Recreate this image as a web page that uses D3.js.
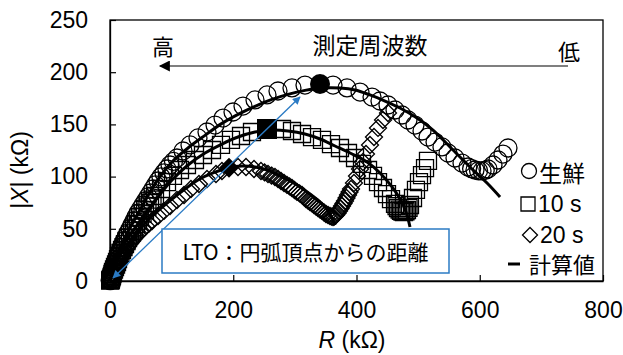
<!DOCTYPE html>
<html>
<head>
<meta charset="utf-8">
<script src="https://cdn.jsdelivr.net/npm/d3@7"></script>
<style>
  html, body { margin: 0; padding: 0; background: #fff; }
  svg { display: block; }
  .latin { font-family: "Liberation Sans", Arial, sans-serif; }
  .cjk { font-family: "Noto Sans CJK JP", "Noto Sans", sans-serif; }
</style>
</head>
<body>
<svg id="chart" width="623" height="355"></svg>
<script>
// Axis ticks
const xTicks = [0, 200, 400, 600, 800];
const yTicks = [0, 50, 100, 150, 200, 250];

// 生鮮 (fresh) — measured R and |X| (kΩ)
const freshR = [0.3,0.8,1.2,1.6,2.3,3.2,4.0,4.9,5.6,6.5,8.0,9.7,11.2,13.0,14.5,16.2,18.5,21.1,23.4,26.0,29.0,32.5,35.6,38.9,42.0,45.4,49.5,53.5,57.6,61.7,65.8,69.8,73.8,77.9,82.7,87.6,92.4,97.4,103.0,108.7,118.5,129.8,142.8,157.4,170.4,183.4,199.6,215.8,235.3,254.8,272.6,295.3,316.4,361.9,384.6,405.7,425.2,438.1,451.1,462.5,473.8,483.6,494.9,506.3,516.0,527.4,538.7,548.5,559.8,571.2,580.9,586.8,592.3,598.1,603.7,608.9,613.4,621.5,629.6,637.7,645.8];
const freshX = [0.4,0.9,1.4,1.9,3.2,4.8,6.6,8.6,10.5,12.5,14.9,17.2,20.0,23.0,25.8,28.7,32.1,35.4,38.8,42.1,45.9,49.8,53.6,57.5,61.3,65.1,69.0,72.8,76.6,80.5,84.3,88.1,92.0,95.8,99.7,103.5,107.3,111.1,114.5,117.8,124.5,130.3,137.0,142.7,149.4,156.1,161.9,167.6,173.4,178.2,182.0,184.9,187.7,187.7,184.9,181.0,176.2,172.4,168.6,163.8,159.0,154.2,149.4,143.7,137.9,133.1,128.4,122.6,117.8,113.0,109.2,107.6,106.3,105.6,105.4,106.0,107.3,111.1,115.9,121.6,127.4];

// 10 s
const s10R = [0.3,0.8,1.2,1.6,2.4,3.2,4.0,4.9,6.5,8.1,9.8,11.4,13.0,14.6,17.0,19.5,21.9,24.3,26.8,29.2,32.4,35.7,38.9,42.2,45.5,48.7,52.8,56.8,60.8,64.9,69.0,73.0,82.8,92.5,102.2,113.6,124.9,137.9,150.9,165.5,180.1,196.3,212.6,230.4,279.1,295.3,311.6,327.8,344.0,358.6,373.2,386.2,397.6,408.9,418.7,426.8,434.9,443.0,449.5,456.0,462.5,465.0,467.3,470.0,472.2,474.6,477.1,479.5,481.9,484.4,486.8,491.7,496.5,501.4,506.3,511.2,516.0];
const s10X = [0.4,0.9,1.4,1.9,3.4,4.8,6.7,8.6,11.0,13.4,15.8,18.2,21.0,23.9,26.8,29.7,32.5,35.4,38.3,41.2,44.5,47.9,51.2,54.6,57.9,61.3,64.6,68.0,71.3,74.7,78.0,81.4,88.1,94.8,100.6,106.3,111.1,115.9,120.7,125.5,130.3,135.1,138.9,142.7,145.6,143.7,140.8,137.9,135.1,131.2,127.4,122.6,117.8,112.1,106.3,100.6,94.8,89.1,83.3,78.5,73.8,71.7,69.9,68.3,67.1,66.4,66.1,66.8,68.0,70.1,72.8,79.5,87.2,94.8,101.5,108.2,115.0];

// 20 s
const s20R = [0.3,0.8,1.2,1.6,2.4,3.2,4.0,4.9,6.5,8.1,9.8,11.4,13.0,14.6,17.0,19.5,21.9,24.3,26.8,29.2,32.4,35.7,38.9,42.2,46.2,50.3,54.3,58.4,63.3,68.2,77.9,87.6,97.4,108.7,120.1,131.4,144.4,157.4,172.0,181.7,207.7,220.7,233.7,245.0,250.8,256.4,262.1,267.7,272.7,277.5,282.4,287.2,291.3,295.3,299.4,303.4,307.6,311.6,314.9,318.0,321.3,324.5,327.8,331.0,334.3,337.5,340.8,344.0,347.3,350.5,353.8,357.0,359.5,361.9,364.3,366.7,369.2,371.6,374.1,376.5,378.9,381.3,383.8,386.2,388.7,391.1,395.9,400.8,405.7,410.5,415.4,421.9,428.4,434.9,443.0,451.1];
const s20X = [0.4,0.9,1.4,1.9,3.4,4.8,6.3,7.7,9.6,11.5,13.4,15.3,17.3,19.2,21.6,23.9,26.3,28.7,31.1,33.5,35.9,38.3,40.7,43.1,45.5,47.9,50.3,52.7,55.1,57.5,62.3,67.1,71.8,77.6,82.4,88.1,92.9,97.7,102.5,105.4,109.2,109.2,107.3,105.4,104.0,102.5,101.0,99.6,97.7,95.8,93.9,92.0,90.6,89.1,87.2,85.3,83.9,82.4,80.5,78.5,77.1,75.7,74.3,72.8,71.4,69.9,68.5,67.1,65.6,64.2,63.2,62.3,61.7,61.3,62.0,63.2,65.0,67.1,69.4,71.8,74.2,76.6,79.5,82.4,85.2,88.1,93.9,100.6,107.3,114.0,121.7,130.3,137.9,146.6,154.2,160.9];

// 計算値 (fitted curves)
const fitFreshR = [0,9.7,26.0,48.7,73.0,100.6,126.6,154.2,181.7,211.0,235.3,262.9,288.8,316.4,344.0,373.2,397.6,421.9,446.3,470.6,498.2,524.1,556.6,589.1,611.8,632.9];
const fitFreshX = [0,20.1,43.1,68.0,93.0,114.0,127.4,139.5,151.0,160.6,167.3,174.0,178.8,182.6,184.9,184.9,183.0,178.2,172.4,165.7,156.1,144.6,125.5,106.3,93.9,80.5];
const fit10R = [0,9.7,24.3,40.6,56.8,77.9,100.6,126.6,154.2,181.7,207.7,235.3,262.9,288.8,316.4,340.8,365.2,389.5,417.1,438.2,457.7,470.6,480.4,486.8];
const fit10X = [0,18.2,37.4,50.8,64.2,80.5,96.8,111.1,122.6,131.2,137.9,142.7,144.6,143.7,140.8,136.0,129.3,122.6,114.0,103.5,90.1,78.5,66.1,51.7];
const fit20R = [0,9.7,24.3,42.2,61.7,81.1,100.6,121.7,142.8,167.2,191.5,214.2,235.3,254.8,272.6,292.1,308.3,324.5,340.8,353.8,365.2];
const fit20X = [0,17.2,31.6,45.0,58.4,68.9,78.5,88.1,96.8,103.5,108.2,110.1,109.2,106.3,101.5,95.8,90.1,83.3,75.7,67.1,53.6];

// Arc apex points (filled markers): fresh, 10 s, 20 s
const apexR = [340.8, 254.8, 193.1];
const apexX = [188.7, 145.6, 108.5];

// LTO distance arrow (from origin side to the fresh apex)
const ltoR = [4.9, 308.3];
const ltoX = [2.9, 176.3];

const svg = d3.select("#chart");
const x = d3.scaleLinear().domain([0, 800]).range([110, 603]);
const y = d3.scaleLinear().domain([0, 250]).range([281, 20]);

const BLUE = "#2b7bc4";

// Frame
svg.append("rect")
  .attr("x", x(0)).attr("y", y(250))
  .attr("width", x(800) - x(0)).attr("height", y(0) - y(250))
  .attr("fill", "none").attr("stroke", "#000").attr("stroke-width", 1.3);

// Axes (ticks point inward)
const xAxis = svg.append("g").attr("transform", `translate(0,${y(0)})`)
  .call(d3.axisBottom(x).tickValues(xTicks).tickSizeInner(-6).tickSizeOuter(0).tickPadding(21));
const yAxis = svg.append("g").attr("transform", `translate(${x(0)},0)`)
  .call(d3.axisLeft(y).tickValues(yTicks).tickSizeInner(-6).tickSizeOuter(0).tickPadding(22));
[xAxis, yAxis].forEach(g => {
  g.select(".domain").attr("stroke", "#000").attr("stroke-width", 1.3);
  g.selectAll(".tick line").attr("stroke", "#000").attr("stroke-width", 1.2);
  g.selectAll(".tick text").attr("class", "latin").attr("font-size", 23).attr("fill", "#000");
});

// Axis titles
const xt = svg.append("text").attr("class", "latin")
  .attr("x", 352).attr("y", 348).attr("text-anchor", "middle")
  .attr("font-size", 23).attr("fill", "#000");
xt.append("tspan").attr("font-style", "italic").text("R");
xt.append("tspan").text(" (kΩ)");

const yt = svg.append("text").attr("class", "latin")
  .attr("transform", "translate(28,170) rotate(-90)")
  .attr("text-anchor", "middle").attr("font-size", 23).attr("fill", "#000");
yt.append("tspan").text("|");
yt.append("tspan").attr("font-style", "italic").text("X");
yt.append("tspan").text("| (kΩ)");

// Marker shapes
const circlePath = r => `M${r},0A${r},${r},0,1,1,${-r},0A${r},${r},0,1,1,${r},0Z`;
const squarePath = s => `M${-s/2},${-s/2}H${s/2}V${s/2}H${-s/2}Z`;
const diamondPath = r => `M0,${-r}L${r},0L0,${r}L${-r},0Z`;

function markers(R, X, path, cls) {
  svg.append("g").attr("class", cls)
    .selectAll("path").data(d3.range(R.length)).join("path")
    .attr("transform", i => `translate(${x(R[i])},${y(X[i])})`)
    .attr("d", path)
    .attr("fill", "none").attr("stroke", "#000").attr("stroke-width", 1.3);
}
markers(freshR, freshX, circlePath(9), "fresh");
markers(s10R, s10X, squarePath(17), "s10");
markers(s20R, s20X, diamondPath(8.5), "s20");

// Fitted curves
const line = d3.line().x(d => x(d[0])).y(d => y(d[1])).curve(d3.curveCatmullRom.alpha(0.5));
[[fitFreshR, fitFreshX], [fit10R, fit10X], [fit20R, fit20X]].forEach(([R, X]) => {
  svg.append("path").datum(R.map((r, i) => [r, X[i]]))
    .attr("d", line).attr("fill", "none").attr("stroke", "#000").attr("stroke-width", 3);
});

// Filled apex markers
const apexShapes = [circlePath(10), squarePath(20), diamondPath(10)];
svg.append("g").selectAll("path").data(d3.range(apexR.length)).join("path")
  .attr("transform", i => `translate(${x(apexR[i])},${y(apexX[i])})`)
  .attr("d", i => apexShapes[i]).attr("fill", "#000");

// Arrow markers
const defs = svg.append("defs");
defs.append("marker").attr("id", "blueHead").attr("viewBox", "0 0 10 10")
  .attr("refX", 9).attr("refY", 5).attr("markerWidth", 10).attr("markerHeight", 8)
  .attr("markerUnits", "userSpaceOnUse").attr("orient", "auto-start-reverse")
  .append("path").attr("d", "M0,0L10,5L0,10Z").attr("fill", BLUE);
defs.append("marker").attr("id", "blackHead").attr("viewBox", "0 0 10 10")
  .attr("refX", 9).attr("refY", 5).attr("markerWidth", 13).attr("markerHeight", 11)
  .attr("markerUnits", "userSpaceOnUse").attr("orient", "auto")
  .append("path").attr("d", "M0,0L10,5L0,10Z").attr("fill", "#000");

// LTO double-headed arrow
svg.append("line")
  .attr("x1", x(ltoR[0])).attr("y1", y(ltoX[0]))
  .attr("x2", x(ltoR[1])).attr("y2", y(ltoX[1]))
  .attr("stroke", BLUE).attr("stroke-width", 1.3)
  .attr("marker-start", "url(#blueHead)").attr("marker-end", "url(#blueHead)");

// LTO label box
svg.append("rect").attr("x", 162).attr("y", 229).attr("width", 287).attr("height", 44)
  .attr("fill", "#fff").attr("stroke", BLUE).attr("stroke-width", 1.5);
svg.append("text").attr("class", "cjk").attr("x", 305.5).attr("y", 251)
  .attr("text-anchor", "middle").attr("dominant-baseline", "central")
  .attr("font-size", 21).attr("fill", "#000").text("LTO：円弧頂点からの距離");

// Frequency direction annotation
svg.append("line").attr("x1", 568).attr("y1", 66).attr("x2", 160).attr("y2", 66)
  .attr("stroke", "#000").attr("stroke-width", 1.2).attr("marker-end", "url(#blackHead)");
svg.append("text").attr("class", "cjk").attr("x", 163).attr("y", 45)
  .attr("text-anchor", "middle").attr("dominant-baseline", "central")
  .attr("font-size", 22).attr("fill", "#000").text("高");
svg.append("text").attr("class", "cjk").attr("x", 370).attr("y", 44)
  .attr("text-anchor", "middle").attr("dominant-baseline", "central")
  .attr("font-size", 23).attr("fill", "#000").text("測定周波数");
svg.append("text").attr("class", "cjk").attr("x", 569).attr("y", 50)
  .attr("text-anchor", "middle").attr("dominant-baseline", "central")
  .attr("font-size", 22).attr("fill", "#000").text("低");

// Legend
const legend = svg.append("g");
legend.append("path").attr("transform", "translate(529,171)").attr("d", circlePath(7.5))
  .attr("fill", "none").attr("stroke", "#000").attr("stroke-width", 1.3);
legend.append("text").attr("class", "cjk").attr("x", 539).attr("y", 172)
  .attr("dominant-baseline", "central").attr("font-size", 23).attr("fill", "#000").text("生鮮");
legend.append("path").attr("transform", "translate(528,204)").attr("d", squarePath(14))
  .attr("fill", "none").attr("stroke", "#000").attr("stroke-width", 1.3);
legend.append("text").attr("class", "latin").attr("x", 538).attr("y", 204)
  .attr("dominant-baseline", "central").attr("font-size", 23).attr("fill", "#000").text("10 s");
legend.append("path").attr("transform", "translate(530,235)").attr("d", diamondPath(7.5))
  .attr("fill", "none").attr("stroke", "#000").attr("stroke-width", 1.3);
legend.append("text").attr("class", "latin").attr("x", 540).attr("y", 235)
  .attr("dominant-baseline", "central").attr("font-size", 23).attr("fill", "#000").text("20 s");
legend.append("line").attr("x1", 508).attr("x2", 520).attr("y1", 264).attr("y2", 264)
  .attr("stroke", "#000").attr("stroke-width", 3);
legend.append("text").attr("class", "cjk").attr("x", 529).attr("y", 263)
  .attr("dominant-baseline", "central").attr("font-size", 22).attr("fill", "#000").text("計算値");
</script>
</body>
</html>
